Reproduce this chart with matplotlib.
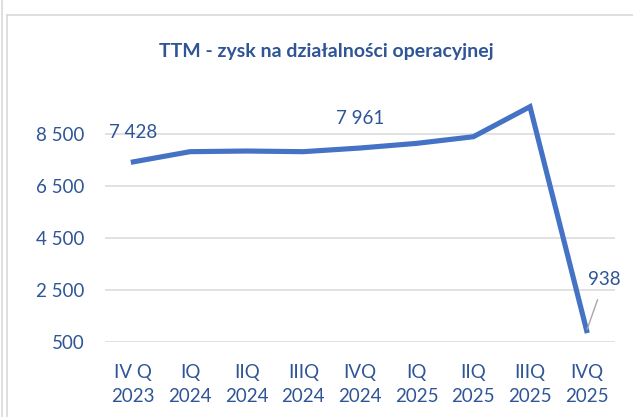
import matplotlib.pyplot as plt
from matplotlib.lines import Line2D

quarters = ["IV Q\n2023", "IQ\n2024", "IIQ\n2024", "IIIQ\n2024", "IVQ\n2024",
            "IQ\n2025", "IIQ\n2025", "IIIQ\n2025", "IVQ\n2025"]
values = [7428, 7820, 7845, 7820, 7961, 8140, 8395, 9550, 938]
yticks = [500, 2500, 4500, 6500, 8500]
labelled = {0: "7 428", 4: "7 961"}

line_color = "#4472C4"
text_color = "#2F5597"
W, H = 633, 417

plt.rcParams['font.family'] = ['Lato', 'DejaVu Sans']

fig = plt.figure(figsize=(W / 100, H / 100), dpi=100)
ax = fig.add_axes([105 / W, (H - 342) / H, 510 / W, 260 / H])

x = list(range(len(values)))
ax.plot(x, values, color=line_color, lw=3.7, solid_joinstyle='miter', zorder=3)

ax.set_xlim(-0.5, len(values) - 0.5)
ax.set_ylim(500, 10500)
ax.set_yticks(yticks)
ax.set_yticklabels([f"{v:,}".replace(",", " ") for v in yticks])
ax.set_xticks(x)
ax.set_xticklabels(quarters, linespacing=1.45)
ax.grid(axis='y', color="#D9D9D9", lw=1.1)
ax.set_axisbelow(True)
for s in ax.spines.values():
    s.set_visible(False)
ax.tick_params(length=0, labelsize=13.5, labelcolor=text_color)
ax.tick_params(axis='y', pad=15)
ax.tick_params(axis='x', pad=16)

for i, txt in labelled.items():
    ax.annotate(txt, (i, values[i]), xytext=(0, 21), textcoords='offset points',
                ha='center', va='center', fontsize=13.5, color=text_color)

last = len(values) - 1
ax.annotate("938", (last, values[last]), xytext=(13, 37), textcoords='offset points',
            ha='center', va='center', fontsize=13.5, color=text_color,
            arrowprops=dict(arrowstyle='-', color="#A6A6A6", lw=1,
                            shrinkA=7, shrinkB=1))

fig.text(326 / W, 1 - 51 / H, "TTM - zysk na działalności operacyjnej",
         ha='center', va='center', fontsize=14, fontweight='bold', color=text_color)

# chart frame
fig.add_artist(Line2D([7 / W, 7 / W], [0, 1 - 15 / H], color="#D9D9D9", lw=1.2))
fig.add_artist(Line2D([7 / W, 1], [1 - 15 / H, 1 - 15 / H], color="#D9D9D9", lw=1.2))
fig.add_artist(Line2D([1.5 / W, 1.5 / W], [0, 1], color="#D9D9D9", lw=1.2))

fig.savefig("out.png", dpi=100)
